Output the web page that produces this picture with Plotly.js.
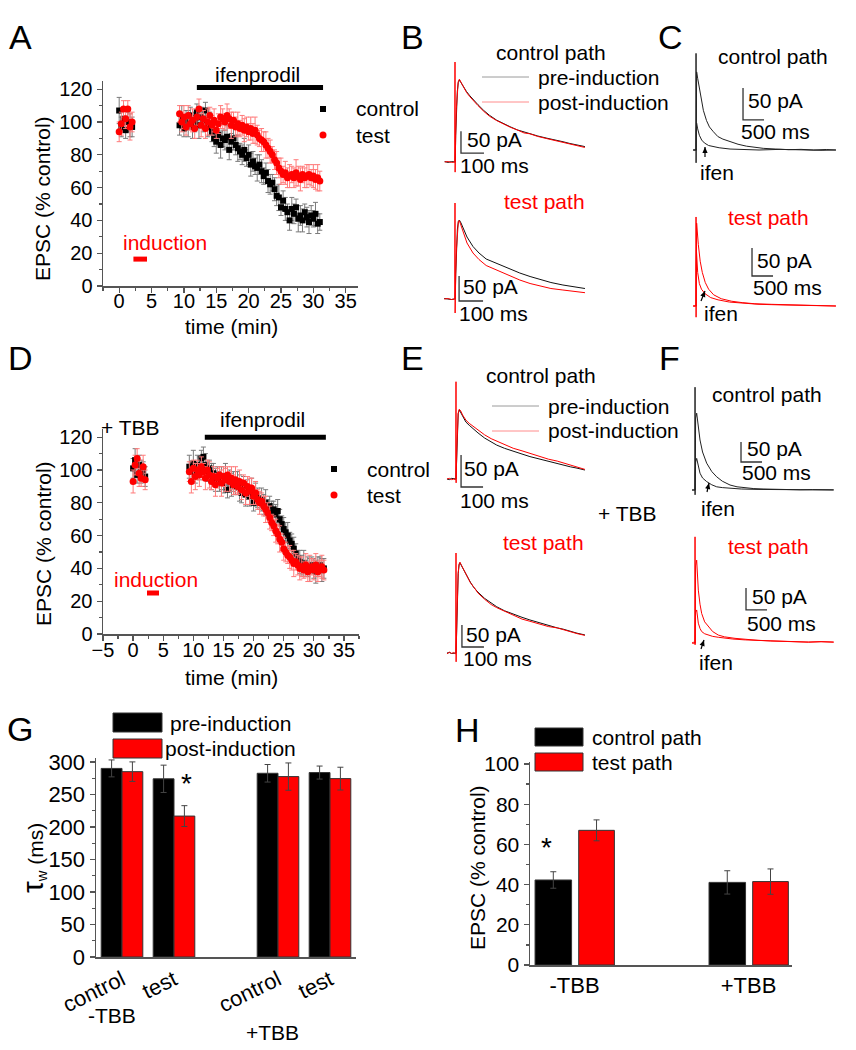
<!DOCTYPE html>
<html><head><meta charset="utf-8">
<script src="https://cdn.plot.ly/plotly-3.0.1.min.js"></script>
<style>body{margin:0;background:#fff}#chart{width:856px;height:1050px}</style>
</head><body><div id="chart"></div><script>
const W=856,H=1050;
const FONT='Liberation Sans, Arial, Helvetica, sans-serif';
// ================= DATA =================
// Panel A (time in min, EPSC % control)
const tBase=[0,0.33,0.67,1,1.33,1.67,2];
const tMainA=[9.33,9.67,10,10.33,10.67,11,11.33,11.67,12,12.33,12.67,13,13.33,13.67,14,14.33,14.67,15,15.33,15.67,16,16.33,16.67,17,17.33,17.67,18,18.33,18.67,19,19.33,19.67,20,20.33,20.67,21,21.33,21.67,22,22.33,22.67,23,23.33,23.67,24,24.33,24.67,25,25.33,25.67,26,26.33,26.67,27,27.33,27.67,28,28.33,28.67,29,29.33,29.67,30,30.33,30.67,31];
const ctrlA_base=[107,97,102,95,100,98,97];
const ctrlA_baseErr=[8,6,7,5,6,7,6];
const testA_base=[94,99,108,102,108,97,100];
const testA_baseErr=[6,7,5,6,5,8,6];
const ctrlA=[98,103,96,101,99,104,97,100,106,98,
 103,101,107,97,99,94,90,88,92,86,
 90,89,91,83,88,90,86,84,82,80,
 83,78,80,74,76,73,72,74,70,67,
 69,64,62,63,59,55,54,48,52,47,
 45,40,47,44,48,41,43,40,45,42,
 39,43,41,44,38,39];
const ctrlAErr=[6,7,5,6,8,5,7,6,5,8,6,7,5,6,7,6,5,7,6,8,5,6,7,6,5,7,6,8,5,6,7,5,6,7,6,5,8,6,7,5,6,7,6,5,7,6,8,5,6,7,5,6,7,6,5,8,6,7,5,6,7,6,5,7,6,5];
const testA=[105,100,103,97,104,99,101,96,103,108,
 98,102,96,100,104,98,101,95,99,103,
 102,100,104,102,98,101,97,99,96,98,
 95,97,94,96,93,95,92,90,89,88,
 86,84,82,80,77,75,72,70,68,69,
 66,67,68,66,69,67,65,68,66,67,
 68,66,67,65,66,64];
const testAErr=[5,6,7,5,6,4,7,6,5,6,7,5,6,8,5,6,7,5,6,7,6,5,7,6,8,5,6,7,5,6,7,6,5,7,6,8,6,5,7,6,8,6,7,5,6,7,6,8,5,7,6,7,5,6,8,6,7,5,6,7,6,5,7,6,8,6];
// Panel D (+TBB)
const tMainD=[9.33,9.67,10,10.33,10.67,11,11.33,11.67,12,12.33,12.67,13,13.33,13.67,14,14.33,14.67,15,15.33,15.67,16,16.33,16.67,17,17.33,17.67,18,18.33,18.67,19,19.33,19.67,20,20.33,20.67,21,21.33,21.67,22,22.33,22.67,23,23.33,23.67,24,24.33,24.67,25,25.33,25.67,26,26.33,26.67,27,27.33,27.67,28,28.33,28.67,29,29.33,29.67,30,30.33,30.67,31,31.33,31.67];
const ctrlD_base=[101,106,97,103,99,100,96];
const ctrlD_baseErr=[6,7,5,6,7,5,6];
const testD_base=[93,103,107,98,95,102,94];
const testD_baseErr=[7,6,6,8,5,7,6];
const ctrlD=[102,99,104,97,103,101,107,108,103,99,
 101,96,98,94,97,93,95,92,96,88,
 94,91,93,90,92,89,86,91,85,88,
 84,87,80,85,83,81,82,79,80,77,
 78,74,76,73,75,70,67,64,62,60,
 57,55,52,49,46,44,42,43,40,41,
 39,42,40,38,41,42,39,40];
const ctrlDErr=[7,6,8,5,6,7,5,6,7,6,5,8,6,7,5,6,7,6,8,5,6,7,6,5,7,8,6,5,7,6,6,8,5,7,6,5,7,6,8,5,6,7,5,6,7,6,5,7,6,8,5,6,7,6,5,7,6,8,5,6,7,5,6,7,6,5,7,6];
const testD=[99,93,101,96,100,97,102,99,95,100,
 97,93,96,91,95,97,92,96,94,97,
 93,95,91,94,90,93,88,92,86,90,
 87,89,84,86,82,80,81,78,76,74,
 71,68,66,63,61,58,56,52,50,48,
 47,45,43,44,42,40,41,39,42,38,
 40,41,39,42,38,40,41,39];
const testDErr=[6,7,5,8,6,7,6,5,7,6,8,5,6,7,6,5,8,6,7,5,6,7,6,8,5,7,6,5,7,6,8,6,5,7,6,7,5,6,8,6,7,5,6,7,6,8,5,7,6,5,7,6,8,5,6,7,6,5,7,6,8,5,6,7,6,5,7,6];
const ifenA=[12,31.5], ifenAy=121, indA=[2.2,4.3], indAy=16.4;
const ifenD=[11.9,32], ifenDy=120, indD=[2.3,4.3], indDy=25;

// Panel G (tau_w, ms)
const gPos=[0,1,3,4];
const gCats=['control','test','control','test'];
const tauPre=[290,274,282.5,283.6];
const tauPreErr=[13,21,13.5,10];
const tauPost=[285,216.7,277.4,274.3];
const tauPostErr=[15,16,21,17.5];
// Panel H (EPSC % control)
const hPos=[0,1];
const hCats=['-TBB','+TBB'];
const hCtrl=[42.3,41.1];
const hCtrlErr=[4.1,5.8];
const hTest=[67,41.5];
const hTestErr=[5.2,6.3];

// Example traces (time ms, current pA)
const bTopPreT=[-45,-30,-15,-3,0,1,3,6,10,14,19,25,35,50,65,80,100,125,150,181,210,240,270,300,326,360,400,440,470,500,530,565];
const bTopPreI=[1,-1,1,0,0,0,60,120,160,180,186,181,172,160,150,141,130,117,106,95,87,80,73,68,64,59,54,50,46,42,38,35];
const bTopPostT=[-45,-30,-15,-3,-1,0,0.5,1,3,6,10,14,19,25,35,50,65,80,100,125,150,181,210,240,270,300,326,360,400,440,470,500,530,565];
const bTopPostI=[0,1,-1,1,0,227,-23,0,62,122,162,182,188,182,171,158,148,139,128,115,104,94,86,79,73,66,64,58,53,48,45,41,37,33];
const bBotPreT=[-45,-30,-15,-3,0,1,3,6,10,14,18,25,35,50,75,100,130,174,220,270,313,360,400,450,500,542];
const bBotPreI=[1,0,-1,0,0,0,50,100,140,155,158,152,140,124,105,92,80,71,61,52,45,38,33,28,24,21];
const bBotPostT=[-45,-30,-15,-3,-1,0,0.5,1,3,6,10,14,18,25,35,50,75,100,130,174,220,270,313,360,400,450,500,542];
const bBotPostI=[0,1,-1,1,0,192,-28,0,50,100,140,155,157,148,132,112,92,79,67,58,47,38,31,25,21,18,15,12.6];
const cTopSlowT=[-70,-30,-5,0,1,2,5,15,40,80,130,175,250,320,413,520,640,810,1000,1200,1400,1600,1900,2200,2500,2800,3100,3330];
const cTopSlowI=[0,1,-1,0,151,-20,0,122,112,95,78,62,46,36,28.6,21,17,13,9,6,4,2.6,1.5,0.5,1,0,0.8,0];
const cTopFastT=[-70,-30,-5,0,5,15,40,80,135,200,300,413,550,810,1100,1500,2000,2500,3000,3330];
const cTopFastI=[0,-1,1,0,30,42,33,23,15.6,11,7,5,3.5,1.5,1,0,1,0,-0.5,0];
const cBotSlowT=[-70,-30,-5,0,1,2,5,15,55,100,150,220,300,420,600,850,1100,1400,1800,2200,2600,3000,3330];
const cBotSlowI=[0,1,-1,0,159,-20,0,148,110,80,60,42,30,20,13,8.5,6,4,3,2,1.5,0.5,0];
const cBotFastT=[-70,-30,-5,0,4,10,40,80,130,214,350,524,800,1100,1500,2000,2500,3000,3330];
const cBotFastI=[0,-1,1,0,70,100,60,40,30,22,15,11,7,5,3,2,1,0.5,0];
const eTopPreT=[-41,-30,-20,-10,-3,0,2,4,7,10,15,22,30,45,60,79,100,130,160,185,220,260,300,336,380,420,460,488,520,550,586];
const eTopPreI=[0,-1,1,0,0,0,20,50,85,102,108,104,98,89,84,79,72,64,58,53,48,43,39,35,31,27,24,22,19,17,14];
const eTopPostT=[-41,-30,-20,-10,-3,-1,0,0.5,1,2,4,7,10,15,22,30,45,60,79,100,130,160,185,220,260,300,336,380,420,460,488,520,550,586];
const eTopPostI=[0,1,-1,0,-1,0,152,-6,0,20,50,86,103,109,106,100,92,87,82,76,69,63,59,54,48,44,40,35,31,28,25,22,19,15];
const eBotPreT=[-41,-30,-20,-10,-3,0,2,4,7,10,14,18,25,35,50,65,79,100,130,160,185,220,260,300,336,380,420,460,488,520,550,586];
const eBotPreI=[0,1,-1,0,0,0,30,80,140,180,200,205,198,188,174,161,150,138,124,113,105,96,88,81,75,68,62,57,54,49,45,41];
const eBotPostT=[-41,-30,-20,-10,-3,-1,0,0.5,1,2,4,7,10,14,18,25,35,50,65,79,100,130,160,185,220,260,300,336,380,420,460,488,520,550,586];
const eBotPostI=[-2,2,-1,1,-2,0,227,-20,0,30,80,140,182,202,206,199,190,173,160,151,136,122,110,103,95,86,77,72,66,60,57,53,47,44,40];
const fTopSlowT=[-70,-30,-5,0,1,2,5,15,40,80,119,180,278,400,516,650,833,1000,1200,1400,1620,1900,2200,2500,2800,3100,3300];
const fTopSlowI=[0,1,-1,0,257,-12,0,180,192,160,125,95,67,46,33,22,12.5,8,5,3.5,2.5,1.5,1,0.5,1,0,0.5];
const fTopFastT=[-70,-30,-5,0,5,15,40,80,119,180,278,400,516,650,833,1100,1500,2000,2500,3000,3300];
const fTopFastI=[0,-1,1,0,40,70,79,55,42,30,21,13,8,6,4,2.5,1.5,1,0.5,0,0];
const fBotSlowT=[-70,-30,-5,0,1,2,5,15,40,79,119,159,230,317,420,555,700,952,1200,1500,1800,2100,2400,2700,3000,3300];
const fBotSlowI=[0,2,-1,0,241,-4,0,175,188,120,88,67,48,37,26,18,14,10.6,8,6,4.5,3.5,4,2,3,2];
const fBotFastT=[-70,-30,-5,0,5,15,40,79,119,159,230,317,420,555,700,900,1200,1500,1800,2100,2400,2700,3000,3300];
const fBotFastI=[0,-1,1,0,40,70,75,45,33,26,21,18,15,13,11,9,7,6,4.5,3.5,4,2,3,2];

// ================= LAYOUT HELPERS =================
const px=x=>x/W, py=y=>1-y/H;
const RED='#ff0000';
const layout={width:W,height:H,margin:{l:0,r:0,t:0,b:0},paper_bgcolor:'#fff',plot_bgcolor:'rgba(0,0,0,0)',
  showlegend:false,barmode:'overlay',font:{family:FONT,size:20,color:'#000'},annotations:[],shapes:[]};
const ax=n=>n===1?'':String(n);
const axBase={showline:true,linecolor:'#555',linewidth:1.5,ticks:'outside',ticklen:5,tickwidth:1.3,tickcolor:'#555',
  showgrid:false,zeroline:false,tickfont:{size:20,family:FONT,color:'#000'},fixedrange:true};
function dataAxes(n,xb,yb,xr,yr,xo,yo){
  layout['xaxis'+ax(n)]=Object.assign({},axBase,{domain:[px(xb[0]),px(xb[1])],range:xr,anchor:'y'+ax(n)},xo);
  layout['yaxis'+ax(n)]=Object.assign({},axBase,{domain:[py(yb[1]),py(yb[0])],range:yr,anchor:'x'+ax(n)},yo);
}
function tracePanel(n,box,org,msPerPx,pAPerPx){
  const [x0,y0,x1,y1]=box,[ox,oy]=org;
  layout['xaxis'+n]={domain:[px(x0),px(x1)],range:[(x0-ox)*msPerPx,(x1-ox)*msPerPx],visible:false,fixedrange:true,anchor:'y'+n};
  layout['yaxis'+n]={domain:[py(y1),py(y0)],range:[(oy-y1)*pAPerPx,(oy-y0)*pAPerPx],visible:false,fixedrange:true,anchor:'x'+n};
}
const F=(s,c)=>({family:FONT,size:s||21,color:c||'#000'});
function T(x,y,text,o){layout.annotations.push(Object.assign({xref:'paper',yref:'paper',x:px(x),y:py(y),text,showarrow:false,
  xanchor:'left',yanchor:'middle',font:F(21)},o||{}));}
function S(o){layout.shapes.push(o);}
const minorY=d=>({ticks:'outside',ticklen:3,tickcolor:'#555',dtick:d});

// ===== axes =====
dataAxes(1,[103,358],[81,286],[-2.5,36.9],[0,125],
  {dtick:5,tick0:0,ticklabelstandoff:-9,minor:minorY(2.5)},
  {dtick:20,tick0:0,minor:minorY(10)});
dataAxes(2,[103,359],[429,634],[-5,37.5],[0,125],
  {dtick:5,tick0:0,ticklabelstandoff:-8,minor:minorY(2.5)},
  {dtick:20,tick0:0,minor:minorY(10)});
dataAxes(3,[96,356],[758,957],[-0.5,4.5],[0,306],
  {ticks:'',tickvals:gPos,ticktext:gCats,tickangle:-26,tickfont:F(22)},
  {dtick:50,tick0:0,tickfont:F(22),minor:minorY(25)});
dataAxes(4,[530,792],[762,965],[-0.256,1.25],[0,101],
  {ticks:'',tickvals:hPos,ticktext:hCats,tickfont:F(22)},
  {dtick:20,tick0:0,tickfont:F(21),minor:minorY(10)});
tracePanel(5,[440,50,600,180],[455,162],4.35,2.27);   // B control
tracePanel(6,[440,195,600,320],[455,299],4.17,2.0);   // B test
tracePanel(7,[685,45,840,170],[696,150],23.8,1.5625); // C control
tracePanel(8,[685,210,840,320],[696,306],23.8,1.786); // C test
tracePanel(9,[440,375,600,495],[456,479],4.545,1.5625); // E control
tracePanel(10,[440,545,600,670],[456,653],4.545,2.27);  // E test
tracePanel(11,[685,380,840,500],[695,490],23.8,2.5);    // F control
tracePanel(12,[685,530,840,655],[695,643],23.8,2.27);   // F test

// ===== traces =====
const data=[];
function series(x,y,err,n,ctrl){
  data.push({type:'scatter',mode:'markers',x,y,xaxis:'x'+ax(n),yaxis:'y'+ax(n),hoverinfo:'skip',
    marker:{symbol:ctrl?'square':'circle',size:ctrl?6:7,color:ctrl?'#000':RED,line:{width:0}},
    error_y:{type:'data',array:err,visible:true,color:ctrl?'#7a7a7a':'#ff7a7a',thickness:1,width:2.5}});
}
series(tBase.concat(tMainA),ctrlA_base.concat(ctrlA),ctrlA_baseErr.concat(ctrlAErr),1,true);
series(tBase.concat(tMainA),testA_base.concat(testA),testA_baseErr.concat(testAErr),1,false);
series(tBase.concat(tMainD),ctrlD_base.concat(ctrlD),ctrlD_baseErr.concat(ctrlDErr),2,true);
series(tBase.concat(tMainD),testD_base.concat(testD),testD_baseErr.concat(testDErr),2,false);

function bars(x,y,err,n,color,off,w){
  data.push({type:'bar',x,y,xaxis:'x'+ax(n),yaxis:'y'+ax(n),offset:off,width:w,hoverinfo:'skip',
    marker:{color,line:{color:'#333',width:1}},
    error_y:{type:'data',array:err,visible:true,color:'#444',thickness:1,width:3}});
}
bars(gPos,tauPre,tauPreErr,3,'#000',-0.4,0.4);
bars(gPos,tauPost,tauPostErr,3,RED,0,0.4);
bars(hPos,hCtrl,hCtrlErr,4,'#000',-0.227,0.21);
bars(hPos,hTest,hTestErr,4,RED,0.024,0.205);

function line(n,t,i,color,w){data.push({type:'scatter',mode:'lines',x:t,y:i,xaxis:'x'+n,yaxis:'y'+n,hoverinfo:'skip',line:{color,width:w||1}});}
line(5,bTopPreT,bTopPreI,'#111');   line(5,bTopPostT,bTopPostI,RED);
line(6,bBotPreT,bBotPreI,'#111');   line(6,bBotPostT,bBotPostI,RED);
line(7,cTopSlowT,cTopSlowI,'#222'); line(7,cTopFastT,cTopFastI,'#222');
line(8,cBotSlowT,cBotSlowI,RED);    line(8,cBotFastT,cBotFastI,RED);
line(9,eTopPreT,eTopPreI,'#111');   line(9,eTopPostT,eTopPostI,RED);
line(10,eBotPreT,eBotPreI,'#111');  line(10,eBotPostT,eBotPostI,RED);
line(11,fTopSlowT,fTopSlowI,'#222');line(11,fTopFastT,fTopFastI,'#222');
line(12,fBotSlowT,fBotSlowI,RED);   line(12,fBotFastT,fBotFastI,RED);

// scale bars (dt ms, 50 pA)
function scaleBar(n,t0,p0,dt,dp){data.push({type:'scatter',mode:'lines',x:[t0,t0,t0+dt],y:[p0+dp,p0,p0],xaxis:'x'+n,yaxis:'y'+n,hoverinfo:'skip',line:{color:'#333',width:1.3}});}
scaleBar(5,26,20,100,50);   scaleBar(6,17,-4,100,50);
scaleBar(7,1119,47,500,50); scaleBar(8,1333,53.6,500,50);
scaleBar(9,23,-12.5,100,50); scaleBar(10,27,13.6,100,50);
scaleBar(11,1095,70,500,50); scaleBar(12,1214,75,500,50);

// ===== shapes: drug bars, legends, arrows =====
S({type:'line',xref:'x',yref:'y',x0:ifenA[0],x1:ifenA[1],y0:ifenAy,y1:ifenAy,line:{color:'#000',width:5}});
S({type:'line',xref:'x',yref:'y',x0:indA[0],x1:indA[1],y0:indAy,y1:indAy,line:{color:RED,width:5}});
S({type:'line',xref:'x2',yref:'y2',x0:ifenD[0],x1:ifenD[1],y0:ifenDy,y1:ifenDy,line:{color:'#000',width:5}});
S({type:'line',xref:'x2',yref:'y2',x0:indD[0],x1:indD[1],y0:indDy,y1:indDy,line:{color:RED,width:5}});
function pRect(x0,y0,x1,y1,fill,lc){S({type:'rect',xref:'paper',yref:'paper',x0:px(x0),x1:px(x1),y0:py(y1),y1:py(y0),fillcolor:fill,line:{color:lc||fill,width:lc?1:0}});}
function pCirc(cx,cy,r,fill){S({type:'circle',xref:'paper',yref:'paper',x0:px(cx-r),x1:px(cx+r),y0:py(cy+r),y1:py(cy-r),fillcolor:fill,line:{width:0}});}
function pLine(x0,y0,x1,y1,c,w){S({type:'line',xref:'paper',yref:'paper',x0:px(x0),x1:px(x1),y0:py(y0),y1:py(y1),line:{color:c,width:w||1}});}
pRect(320,106,326,112,'#000'); pCirc(323,135,3.5,RED);
pRect(331,466,337,472,'#000'); pCirc(334,495,3.5,RED);
pRect(113,713,162,732,'#000','#333'); pRect(113,739,162,758,RED,'#333');
pRect(535,728,583,746,'#000','#333'); pRect(535,753,583,771,RED,'#333');
pLine(482,77,529,77,'#9a9a9a'); pLine(482,102,529,102,'#ff8c8c');
pLine(492,406,539,406,'#9a9a9a'); pLine(492,431,539,431,'#ff8c8c');
// "ifen" arrows: tail -> head, with small filled head
function pArrow(tx,ty,hx,hy){
  pLine(tx,ty,hx,hy,'#000',1.2);
  const dx=hx-tx,dy=hy-ty,L=Math.hypot(dx,dy),ux=dx/L,uy=dy/L,cx=hx-6*ux,cy=hy-6*uy,pxv=-uy,pyv=ux;
  const pts=[[hx,hy],[cx+2.6*pxv,cy+2.6*pyv],[cx-2.6*pxv,cy-2.6*pyv]];
  S({type:'path',xref:'paper',yref:'paper',path:'M'+pts.map(p=>px(p[0])+','+py(p[1])).join(' L')+' Z',fillcolor:'#000',line:{width:0}});
}
pArrow(705,157,705,147); pArrow(701,301,705,291); pArrow(707,492,709,483); pArrow(701,649,704,640);

// ===== text =====
[['A',20,37],['B',412,37],['C',670,37],['D',20,358],['E',412,358],['F',669,358],['G',20,729],['H',467,730]]
  .forEach(([s,x,y])=>T(x,y,s,{xanchor:'center',font:F(34)}));
// A
T(257,75,'ifenprodil',{xanchor:'center'});
T(354,109,'control'); T(354,135,'test');
T(121,242,'induction',{font:F(21,RED)});
T(42,199,'EPSC (% control)',{xanchor:'center',textangle:-90,font:F(21)});
T(231,327,'time (min)',{xanchor:'center'});
// D
T(262,419,'ifenprodil',{xanchor:'center'});
T(99,427,'+ TBB');
T(365,469,'control'); T(365,495,'test');
T(112,579,'induction',{font:F(21,RED)});
T(43,544,'EPSC (% control)',{xanchor:'center',textangle:-90,font:F(21)});
T(231,677,'time (min)',{xanchor:'center'});
// B
T(551,53,'control path',{xanchor:'center'});
T(536,77,'pre-induction'); T(536,102,'post-induction');
T(465,139,'50 pA'); T(458,166,'100 ms');
T(544,202,'test path',{xanchor:'center',font:F(21,RED)});
T(461,286,'50 pA'); T(457,313,'100 ms');
// C
T(773,56,'control path',{xanchor:'center'});
T(746,100,'50 pA'); T(739,132,'500 ms'); T(698,172,'ifen');
T(768,217,'test path',{xanchor:'center',font:F(21,RED)});
T(755,260,'50 pA'); T(751,287,'500 ms'); T(702,313,'ifen');
// E
T(541,376,'control path',{xanchor:'center'});
T(546,406,'pre-induction'); T(546,431,'post-induction');
T(462,468,'50 pA'); T(458,500,'100 ms');
T(627,513,'+ TBB',{xanchor:'center'});
T(543,542,'test path',{xanchor:'center',font:F(21,RED)});
T(464,634,'50 pA'); T(461,658,'100 ms');
// F
T(767,394,'control path',{xanchor:'center'});
T(745,448,'50 pA'); T(740,472,'500 ms'); T(699,508,'ifen');
T(768,546,'test path',{xanchor:'center',font:F(21,RED)});
T(750,596,'50 pA'); T(745,623,'500 ms'); T(697,662,'ifen');
// G
T(168,723,'pre-induction'); T(163,748,'post-induction');
T(186,783,'*',{xanchor:'center',font:F(28)});
T(33,858,"<span style='font-size:30px'>τ</span><sub>w</sub> (ms)",{xanchor:'center',textangle:-90,font:F(21)});
T(112,1015,'-TBB',{xanchor:'center',font:F(21)});
T(272,1032,'+TBB',{xanchor:'center',font:F(21)});
// H
T(590,737,'control path'); T(590,762,'test path');
T(546,847,'*',{xanchor:'center',font:F(28)});
T(477,867,'EPSC (% control)',{xanchor:'center',textangle:-90,font:F(21)});

Plotly.newPlot('chart',data,layout,{staticPlot:true,displayModeBar:false});
</script></body></html>
